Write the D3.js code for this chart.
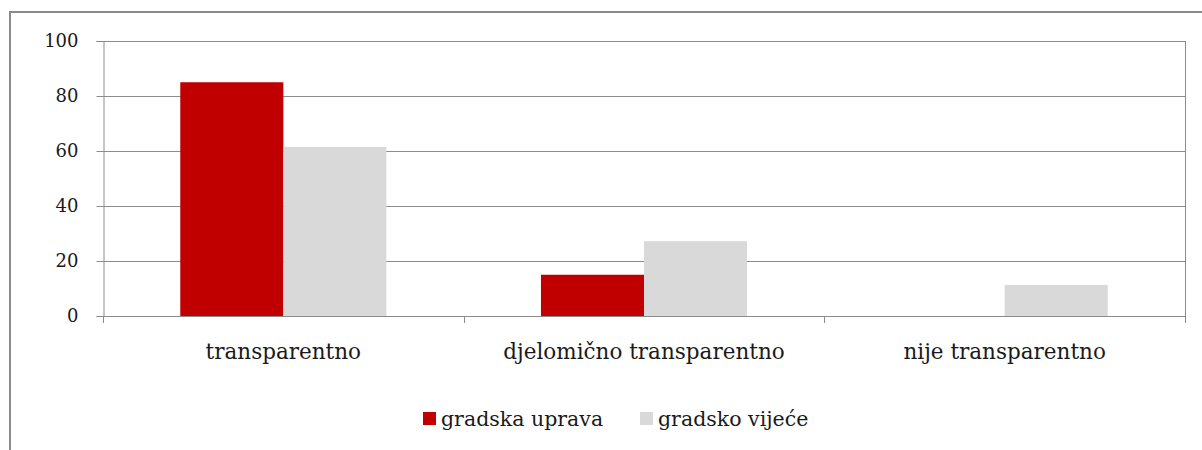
<!DOCTYPE html>
<html>
<head>
<meta charset="utf-8">
<script src="https://cdn.jsdelivr.net/npm/d3@7"></script>
<style>
  body { margin: 0; background: #fff; }
  svg text { font-family: "DejaVu Serif", serif; fill: #1a1a1a; }
</style>
</head>
<body>
<svg id="chart" width="1202" height="450"></svg>
<script>
var categories = ['transparentno', 'djelomično transparentno', 'nije transparentno'];
var seriesNames = ['gradska uprava', 'gradsko vijeće'];
var upravaValues = [85, 15, 0];
var vijeceValues = [61.5, 27.2, 11.3];
var yTicks = [0, 20, 40, 60, 80, 100];
var colors = ['#c00000', '#d9d9d9'];

var svg = d3.select('#chart');
var margin = {left: 103, right: 17, top: 41, bottom: 134};
var width = 1202, height = 450;
var fontFam = '"DejaVu Serif", serif';

// outer frame, runs off the right and bottom edges
svg.append('rect')
    .attr('x', 10).attr('y', 12)
    .attr('width', 1200).attr('height', 450)
    .attr('fill', 'none')
    .attr('stroke', '#8a8a8a')
    .attr('stroke-width', 2);

var x0 = d3.scaleBand().domain(categories)
    .range([margin.left, width - margin.right])
    .paddingInner(3 / 7).paddingOuter(3 / 14);
var x1 = d3.scaleBand().domain(seriesNames).range([0, x0.bandwidth()]);
var y = d3.scaleLinear().domain([0, 100]).range([height - margin.bottom, margin.top]);

var rows = categories.map(function(c, i) {
  return {cat: c, values: [upravaValues[i], vijeceValues[i]]};
});

// gridlines
svg.append('g').selectAll('line').data(yTicks.filter(function(t) { return t > 0; }))
  .enter().append('line')
    .attr('x1', margin.left).attr('x2', width - margin.right)
    .attr('y1', function(d) { return Math.round(y(d)) + 0.5; })
    .attr('y2', function(d) { return Math.round(y(d)) + 0.5; })
    .attr('stroke', '#8c8c8c').attr('stroke-width', 1);

// right edge of plot area
svg.append('line')
    .attr('x1', width - margin.right + 0.5).attr('x2', width - margin.right + 0.5)
    .attr('y1', y(100)).attr('y2', y(0))
    .attr('stroke', '#8c8c8c');

// bars
var groups = svg.append('g').selectAll('g').data(rows).enter().append('g')
    .attr('transform', function(d) { return 'translate(' + x0(d.cat) + ',0)'; });

groups.selectAll('rect').data(function(d) { return d.values; })
  .enter().append('rect')
    .attr('x', function(d, i) { return x1(seriesNames[i]); })
    .attr('width', x1.bandwidth())
    .attr('y', function(d) { return y(d); })
    .attr('height', function(d) { return y(0) - y(d); })
    .attr('fill', function(d, i) { return colors[i]; });

// y axis
var yAxis = svg.append('g')
    .attr('transform', 'translate(' + (margin.left + 0.5) + ',0)')
    .call(d3.axisLeft(y).tickValues(yTicks).tickSize(7).tickPadding(18));
yAxis.attr('font-family', fontFam).attr('font-size', 18);
yAxis.select('.domain').attr('stroke', '#8c8c8c');
yAxis.selectAll('.tick line').attr('stroke', '#8c8c8c');
yAxis.selectAll('.tick text').attr('fill', '#1a1a1a');

// x axis
var boundaries = categories.map(function(c) { return x0(c) - x0.step() * x0.paddingOuter(); });
boundaries.push(width - margin.right);
svg.append('line')
    .attr('x1', margin.left).attr('x2', width - margin.right)
    .attr('y1', Math.round(y(0)) + 0.5).attr('y2', Math.round(y(0)) + 0.5)
    .attr('stroke', '#8c8c8c');
svg.append('g').selectAll('line').data(boundaries).enter().append('line')
    .attr('x1', function(d) { return Math.round(d) + 0.5; })
    .attr('x2', function(d) { return Math.round(d) + 0.5; })
    .attr('y1', y(0)).attr('y2', y(0) + 7)
    .attr('stroke', '#8c8c8c');

svg.append('g').selectAll('text').data(categories).enter().append('text')
    .attr('x', function(d) { return x0(d) + x0.bandwidth() / 2; })
    .attr('y', 359)
    .attr('text-anchor', 'middle')
    .attr('font-family', fontFam)
    .attr('font-size', 21.5)
    .text(function(d) { return d; });

// legend
var legendX = [423, 640];
var legend = svg.append('g').selectAll('g').data(seriesNames).enter().append('g')
    .attr('transform', function(d, i) { return 'translate(' + legendX[i] + ',412)'; });
legend.append('rect').attr('width', 13).attr('height', 13)
    .attr('fill', function(d, i) { return colors[i]; });
legend.append('text').attr('x', 18).attr('y', 14)
    .attr('font-family', fontFam)
    .attr('font-size', 20.5)
    .text(function(d) { return d; });
</script>
</body>
</html>
